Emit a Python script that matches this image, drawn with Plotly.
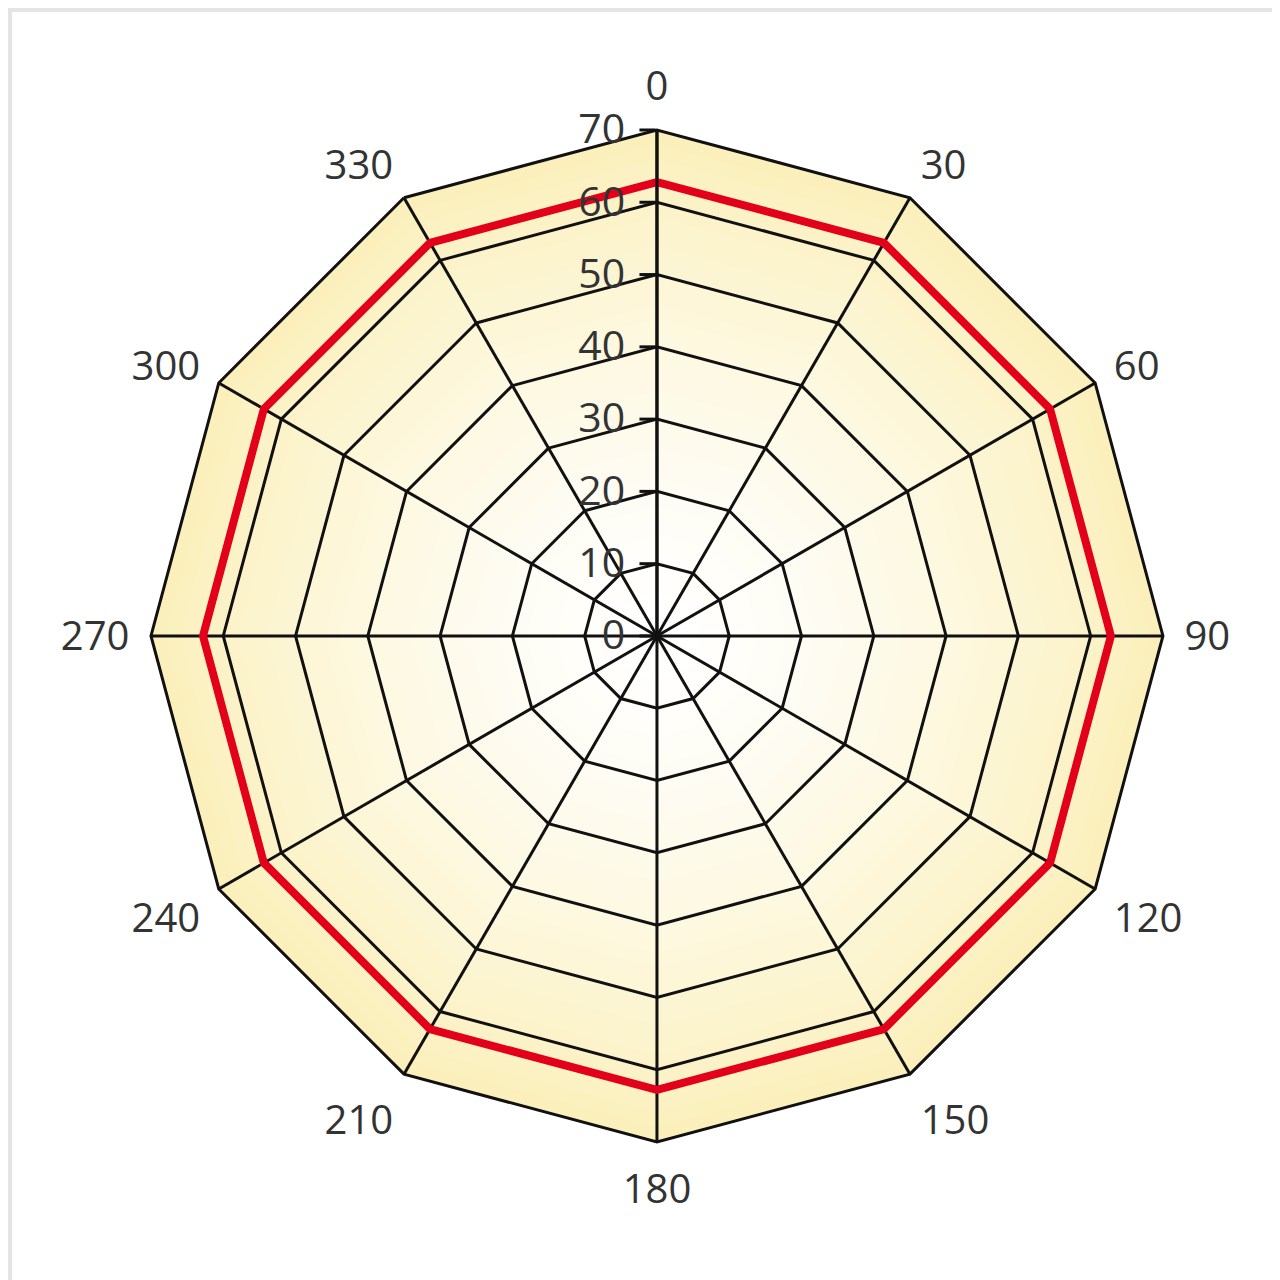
import plotly.graph_objects as go

# ---- data ----
angle_labels = ["0", "30", "60", "90", "120", "150", "180", "210", "240", "270", "300", "330"]
red_values = [62.8, 62.8, 62.8, 62.8, 62.8, 62.8, 62.8, 62.8, 62.8, 62.8, 62.8, 62.8]
radial_ticks = [0, 10, 20, 30, 40, 50, 60, 70]
r_max = 70

fig = go.Figure()

# ---- background radial gradient (decoration) in a subplot drawn underneath ----
edge = (251, 240, 188)
steps = 35
for i in range(steps, 0, -1):
    r = r_max * i / steps
    t = (i / steps) ** 1.5
    col = tuple(round(255 + (e - 255) * t) for e in edge)
    fig.add_trace(go.Scatterpolar(
        r=[r] * (len(angle_labels) + 1), theta=angle_labels + [angle_labels[0]],
        mode="lines", fill="toself",
        fillcolor="rgb(%d,%d,%d)" % col,
        line=dict(width=0, color="rgba(0,0,0,0)"),
        hoverinfo="skip", showlegend=False, subplot="polar"))

# ---- red series ----
fig.add_trace(go.Scatterpolar(
    r=red_values + [red_values[0]], theta=angle_labels + [angle_labels[0]],
    mode="lines", line=dict(color="#e3001b", width=8),
    showlegend=False, subplot="polar2"))

domain = dict(x=[0.1117, 0.9023], y=[0.1141, 0.9047])
common_ang = dict(type="category", categoryorder="array", categoryarray=angle_labels,
                  rotation=90, direction="clockwise")

fig.update_layout(
    width=1280, height=1280,
    margin=dict(l=0, r=0, t=0, b=0),
    paper_bgcolor="white",
    font=dict(family="Open Sans, sans-serif", color="#333333"),
    polar=dict(
        domain=domain, gridshape="linear", bgcolor="rgba(0,0,0,0)",
        angularaxis=dict(**common_ang, showgrid=False, showline=False,
                         showticklabels=False, ticks=""),
        radialaxis=dict(range=[0, r_max], showgrid=False, showline=False,
                        showticklabels=False, ticks=""),
    ),
    polar2=dict(
        domain=domain, gridshape="linear", bgcolor="rgba(0,0,0,0)",
        angularaxis=dict(**common_ang,
                         showgrid=True, gridcolor="#111111", gridwidth=3,
                         showline=True, linecolor="#111111", linewidth=3,
                         ticks="outside", ticklen=12, tickcolor="rgba(0,0,0,0)",
                         tickfont=dict(size=40, color="#333333")),
        radialaxis=dict(range=[0, r_max], tickmode="array", tickvals=radial_ticks,
                        ticktext=[str(v) for v in radial_ticks],
                        showgrid=True, gridcolor="#111111", gridwidth=3,
                        showline=True, linecolor="#111111", linewidth=3,
                        ticks="outside", ticklen=16, tickwidth=3, tickcolor="#111111",
                        angle=90, side="counterclockwise", tickangle=90,
                        tickfont=dict(size=41, color="#333333")),
    ),
    shapes=[dict(type="rect", xref="paper", yref="paper", x0=0, y0=0, x1=1, y1=1,
                 line=dict(color="#e4e4e4", width=8))],
)

fig.write_html("out.html")
